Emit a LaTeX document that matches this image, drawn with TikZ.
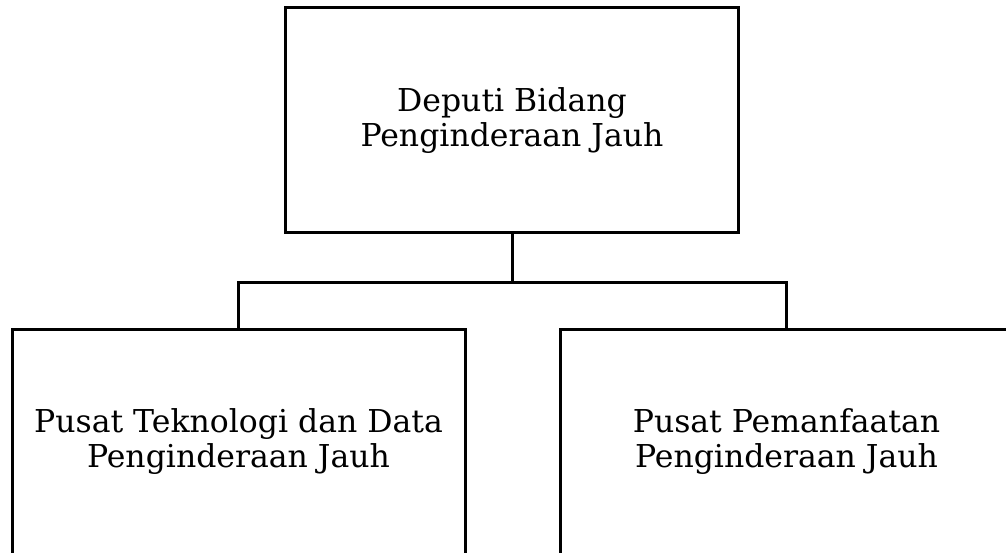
\documentclass[tikz,border=0pt]{standalone}
\usepackage{fontspec}
\setmainfont{DejaVu Serif}
\begin{document}
\begin{tikzpicture}[x=1pt,y=-1pt,
  unitbox/.style={draw, line width=3pt, minimum width=453pt, minimum height=225pt,
    align=center, inner sep=0pt, font=\fontsize{31.5}{34.5}\selectfont},
  link/.style={line width=3pt}]
\useasboundingbox (0,0) rectangle (1006,553);
\clip (0,0) rectangle (1006,553);
\node[unitbox] (top) at (512,120.5) {Deputi Bidang\\Penginderaan Jauh};
\node[unitbox] (left) at (238.5,441.5) {Pusat Teknologi dan Data\\Penginderaan Jauh};
\node[unitbox] (right) at (786.5,441.5) {Pusat Pemanfaatan\\Penginderaan Jauh};
\coordinate (j) at (512,282);
\draw[link] (top.south) -- (j);
\draw[link] (left.north) |- (j) -| (right.north);
\end{tikzpicture}
\end{document}
